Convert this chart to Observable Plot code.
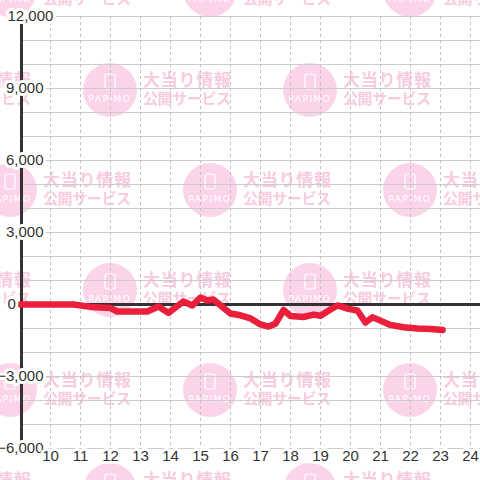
<!DOCTYPE html>
<html>
<head>
<meta charset="utf-8">
<script src="https://cdn.jsdelivr.net/npm/d3@7"></script>
<script src="https://cdn.jsdelivr.net/npm/@observablehq/plot@0.6"></script>
<style>
  html, body { margin: 0; padding: 0; background: #ffffff; }
  #chart { width: 480px; height: 480px; position: relative; }
  #chart svg { display: block; }
</style>
</head>
<body>
<div id="chart"></div>
<script>
// ---- data ----
const hours = [9, 10.77, 11.33, 12, 12.23, 13.23, 13.6, 13.93, 14.43, 14.73,
  15, 15.23, 15.43, 15.67, 16, 16.33, 16.67, 17, 17.27, 17.5,
  17.77, 18, 18.43, 18.77, 19, 19.33, 19.57, 19.9, 20.23, 20.5,
  20.73, 20.9, 21.33, 21.77, 22.23, 22.67, 23.07];
const balance = [0, 0, -100, -150, -290, -290, -80, -350, 125, -40,
  290, 170, 210, -40, -375, -450, -580, -830, -920, -800,
  -230, -480, -520, -420, -470, -210, -40, -170, -250, -750,
  -530, -620, -850, -950, -1000, -1020, -1060];
const xTicks = [10, 11, 12, 13, 14, 15, 16, 17, 18, 19, 20, 21, 22, 23, 24];
const yTicks = [-6000, -3000, 0, 3000, 6000, 9000, 12000];
const yGrid = [-6000, -5000, -4000, -3000, -2000, -1000, 0, 1000, 2000, 3000, 4000, 5000, 6000, 7000, 8000, 9000, 10000, 11000, 12000];
const watermarkLine1 = "大当り情報";
const watermarkLine2 = "公開サービス";
const watermarkLogo = "PAPIMO";

const data = hours.map((h, i) => ({hour: h, value: balance[i]}));
const fmt = d3.format(",");
const yLabelsEnd = yTicks.filter(d => d !== 0 && d !== 12000);
const yLabelsStart = yTicks.filter(d => d === 0 || d === 12000);

const textStyle = {fontSize: 15, fill: "#333333", stroke: "white", strokeWidth: 6, paintOrder: "stroke"};

const svg = Plot.plot({
  width: 480,
  height: 480,
  marginTop: 16,
  marginBottom: 32,
  marginLeft: 20,
  marginRight: 0,
  x: {domain: [9, 9 + 460 / 30], axis: null},
  y: {domain: [-6000, 12000], axis: null},
  style: {background: "transparent", fontFamily: "'Liberation Sans', Arial, sans-serif", overflow: "visible"},
  marks: [
    Plot.ruleY(yGrid, {stroke: "#cccccc", strokeWidth: 1, ariaLabel: "grid-y"}),
    Plot.ruleX(xTicks, {stroke: "#c2c2c2", strokeWidth: 1, strokeDasharray: "3,3", ariaLabel: "grid-x"}),
    Plot.ruleY([0], {stroke: "#333333", strokeWidth: 3}),
    Plot.ruleX([9], {stroke: "#333333", strokeWidth: 3, dx: 1}),
    Plot.line(data, {x: "hour", y: "value", stroke: "#ea1f3c", strokeWidth: 6.5, strokeLinejoin: "round", strokeLinecap: "round"}),
    Plot.text(yLabelsEnd, {y: d => d, text: d => fmt(d), frameAnchor: "left", textAnchor: "end", dx: 23, ...textStyle}),
    Plot.text(yLabelsStart, {y: d => d, text: d => fmt(d), frameAnchor: "left", textAnchor: "start", dx: -13, ...textStyle}),
    Plot.text(xTicks, {x: d => d, text: d => String(d), frameAnchor: "bottom", dy: 12, ...textStyle})
  ]
});

// ---- decorative watermark (drawn above grid, below data) ----
const wm = d3.create("svg:g").attr("class", "watermark");
for (let i = 0; i <= 5; i++) {
  const cy = -10 + 100 * i;
  const off = i % 2 === 0 ? 10 : 110;
  for (let k = -1; k <= 2; k++) {
    const cx = off + 200 * k;
    const g = wm.append("g");
    g.append("circle").attr("cx", cx).attr("cy", cy).attr("r", 27).attr("fill", "#fbd4ea");
    g.append("rect").attr("x", cx - 5).attr("y", cy - 16).attr("width", 10).attr("height", 15)
      .attr("rx", 1.5).attr("fill", "none").attr("stroke", "#ffffff").attr("stroke-width", 1.2);
    g.append("text").attr("x", cx).attr("y", cy + 12).attr("text-anchor", "middle")
      .attr("font-family", "'DejaVu Sans', sans-serif").attr("font-size", 9).attr("letter-spacing", 1.5)
      .attr("fill", "#ffffff").text(watermarkLogo);
    g.append("text").attr("x", cx + 33).attr("y", cy - 4).attr("text-anchor", "start")
      .attr("font-family", "'Noto Sans CJK JP', sans-serif").attr("font-weight", "bold").attr("font-size", 17)
      .attr("textLength", 88).attr("fill", "#f7cbe0").text(watermarkLine1);
    g.append("text").attr("x", cx + 33).attr("y", cy + 14).attr("text-anchor", "start")
      .attr("font-family", "'Noto Sans CJK JP', sans-serif").attr("font-weight", "bold").attr("font-size", 15)
      .attr("textLength", 88).attr("fill", "#f7cbe0").text(watermarkLine2);
  }
}
const gridX = svg.querySelector('[aria-label="grid-x"]');
if (gridX && gridX.nextSibling) {
  svg.insertBefore(wm.node(), gridX.nextSibling);
} else {
  svg.insertBefore(wm.node(), svg.firstChild);
}
document.getElementById("chart").appendChild(svg);
</script>
</body>
</html>
